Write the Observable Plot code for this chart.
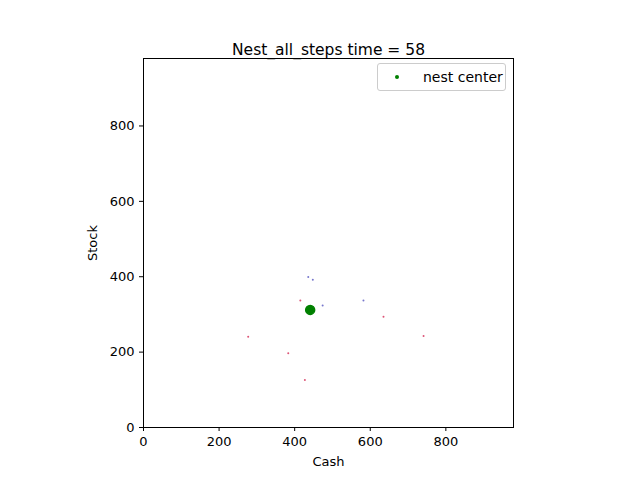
<!DOCTYPE html><html><head><meta charset="utf-8">
<script src="https://cdn.jsdelivr.net/npm/d3@7"></script>
<script src="https://cdn.jsdelivr.net/npm/@observablehq/plot@0.6"></script>
<style>body{margin:0;font-family:"DejaVu Sans",sans-serif}#c{position:relative;width:640px;height:480px}
#leg{position:absolute;left:377px;top:63px;width:127px;height:26px;border:1px solid #ccc;border-radius:3px;background:#fff;font-size:14px;display:flex;align-items:center}
#leg span.d{display:inline-block;width:4px;height:4px;border-radius:2px;background:green;margin:0 24px 0 17px}</style>
</head><body><div id="c"><div id="leg"><span class="d"></span>nest center</div></div>
<script>
const blueX=[436,448,474,582], blueY=[399,392,324,337];
const pinkX=[415,635,277,741,383,427], pinkY=[337,294,241,243,197,126];
const centerX=[441], centerY=[312];
const blue=blueX.map((x,i)=>({x,y:blueY[i]}));
const pink=pinkX.map((x,i)=>({x,y:pinkY[i]}));
const center=centerX.map((x,i)=>({x,y:centerY[i]}));
const chart=Plot.plot({width:640,height:480,marginLeft:143,marginRight:127,marginTop:58,marginBottom:53,
style:{fontFamily:"DejaVu Sans",fontSize:"13px",overflow:"visible"},
x:{domain:[0,979],ticks:[0,200,400,600,800],label:"Cash",labelAnchor:"center",labelArrow:"none",labelOffset:38,tickSize:4},
y:{domain:[0,979],ticks:[0,200,400,600,800],label:"Stock",labelAnchor:"center",labelArrow:"none",labelOffset:56,tickSize:4},
marks:[Plot.frame({stroke:"black"}),
Plot.dot(blue,{x:"x",y:"y",r:1,fill:"#7777cc"}),
Plot.dot(pink,{x:"x",y:"y",r:1,fill:"#dd5577"}),
Plot.dot(center,{x:"x",y:"y",r:4.5,fill:"green",stroke:"green"}),
Plot.text(["Nest_all_steps time = 58"],{frameAnchor:"top",dy:-15,fontSize:15.5})]});
document.getElementById("c").prepend(chart);
</script></body></html>
